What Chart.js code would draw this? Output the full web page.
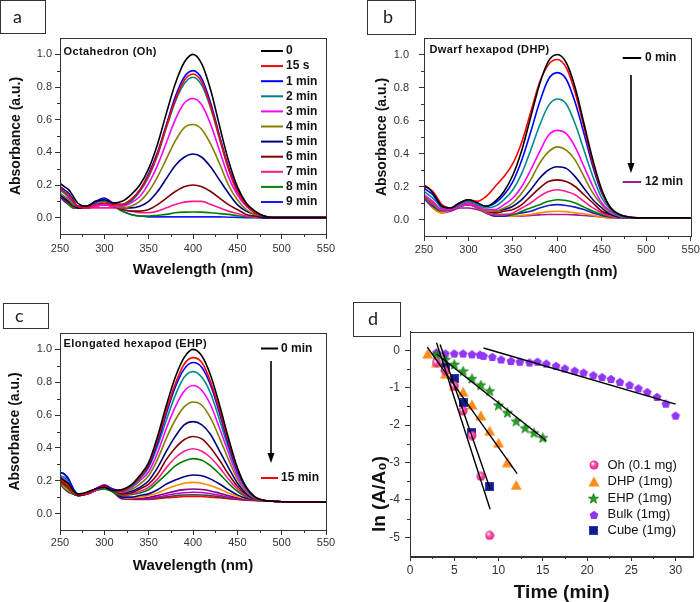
<!DOCTYPE html>
<html>
<head>
<meta charset="utf-8">
<script src="https://cdn.jsdelivr.net/npm/chart.js@4.4.1/dist/chart.umd.min.js"></script>
<style>
  html, body { margin: 0; padding: 0; overflow: hidden; background: #fff; }
  body { position: relative; width: 700px; height: 602px; }
  canvas { position: absolute; }
  .tag { position: absolute; box-sizing: border-box; border: 1px solid #333; font: 18px Lato, "Open Sans", sans-serif; color: #222; }
</style>
</head>
<body>
<canvas id="chartA" width="350" height="300" style="left:0;top:0"></canvas>
<canvas id="chartB" width="370" height="300" style="left:350px;top:0"></canvas>
<canvas id="chartC" width="350" height="302" style="left:0;top:300px"></canvas>
<canvas id="chartD" width="360" height="302" style="left:350px;top:300px"></canvas>
<div class="tag" style="left:0;top:0;width:46px;height:34px;line-height:30px;padding-left:12px">a</div>
<div class="tag" style="left:367px;top:0;width:49px;height:35px;line-height:31px;padding-left:15px">b</div>
<div class="tag" style="left:3px;top:303px;width:46px;height:26px;line-height:22px;padding-left:11px">c</div>
<div class="tag" style="left:353px;top:302px;width:48px;height:35px;line-height:31px;padding-left:14px">d</div>
<script>
// wavelength grid shared by the three spectra panels
const wavelength = [250,255,260,265,270,280,290,300,310,320,330,340,350,360,370,380,390,400,410,420,430,440,450,460,470,480,490,500,550];
const wlTicks = [250,300,350,400,450,500,550];
const wlMinor = [275,325,375,425,475,525];
const absTicks = [0,0.2,0.4,0.6,0.8,1.0];
const absMinor = [0.1,0.3,0.5,0.7,0.9];

// (a) octahedron
const octaLabels = ['0','15 s','1 min','2 min','3 min','4 min','5 min','6 min','7 min','8 min','9 min'];
const octaColors = ['#000000','#ff0000','#0000ff','#008080','#ff00ff','#808000','#000080','#800000','#ff1a8c','#008000','#1a1aff'];
const octa0   = [0.21,0.19,0.17,0.13,0.09,0.07,0.10,0.11,0.09, 0.10,0.14,0.20,0.30,0.45,0.64,0.82,0.95,1.00,0.94,0.78,0.56,0.35,0.19,0.09,0.04,0.01, 0,0,0];
const octa15s = [0.18,0.16,0.14,0.10,0.07,0.06,0.08,0.09,0.08, 0.08,0.11,0.17,0.26,0.39,0.56,0.72,0.84,0.88,0.83,0.68,0.49,0.30,0.16,0.08,0.03,0.01, 0,0,0];
const octa1   = [0.19,0.17,0.15,0.11,0.07,0.07,0.10,0.12,0.09, 0.08,0.11,0.17,0.27,0.40,0.57,0.74,0.86,0.90,0.85,0.70,0.50,0.31,0.17,0.08,0.03,0.01, 0,0,0];
const octa2   = [0.17,0.15,0.13,0.09,0.07,0.07,0.08,0.10,0.08, 0.08,0.10,0.16,0.25,0.38,0.55,0.71,0.82,0.86,0.81,0.67,0.48,0.30,0.16,0.08,0.03,0.01, 0,0,0];
const octa3   = [0.17,0.15,0.12,0.09,0.07,0.06,0.07,0.08,0.07, 0.07,0.09,0.13,0.21,0.32,0.46,0.60,0.70,0.73,0.69,0.57,0.41,0.25,0.14,0.07,0.03,0.01, 0,0,0];
const octa4   = [0.15,0.13,0.11,0.08,0.07,0.06,0.07,0.08,0.07, 0.06,0.07,0.10,0.16,0.25,0.36,0.47,0.55,0.57,0.54,0.45,0.33,0.20,0.11,0.05,0.02,0.01, 0,0,0];
const octa5   = [0.14,0.12,0.10,0.08,0.06,0.06,0.07,0.08,0.07, 0.06,0.06,0.07,0.10,0.16,0.24,0.32,0.37,0.39,0.37,0.31,0.23,0.15,0.08,0.04,0.02,0, 0,0,0];
const octa6   = [0.14,0.11,0.09,0.07,0.06,0.06,0.07,0.08,0.07, 0.05,0.04,0.04,0.05,0.08,0.12,0.16,0.19,0.20,0.19,0.16,0.12,0.08,0.05,0.02,0.01,0, 0,0,0];
const octa7   = [0.14,0.11,0.09,0.07,0.06,0.06,0.06,0.06,0.06, 0.05,0.04,0.03,0.03,0.04,0.06,0.08,0.095,0.10,0.10,0.08,0.06,0.04,0.025,0.01,0.005,0, 0,0,0];
const octa8   = [0.14,0.11,0.08,0.06,0.06,0.06,0.07,0.08,0.07, 0.04,0.02,0.01,0.01,0.015,0.02,0.03,0.034,0.035,0.034,0.03,0.025,0.02,0.012,0.006,0.002,0, 0,0,0];
const octa9   = [0.13,0.10,0.08,0.06,0.06,0.07,0.09,0.11,0.08, 0.04,0.02,0.01,0.005,0.005,0.005,0.005,0.005,0.005,0.005,0.005,0.005,0.003,0.002,0,0,0, 0,0,0];

// (b) dwarf hexapod
const dhpLabels = ['0 min','1 min','2 min','3 min','4 min','5 min','6 min','7 min','8 min','9 min','10 min','11 min','12 min'];
const dhpColors = ['#000000','#ff0000','#0000ff','#008b8b','#ff00ff','#808000','#000080','#800000','#ff1a8c','#008000','#1a1acc','#ff8c00','#9b1d9b'];
const dhp0  = [0.20,0.19,0.16,0.12,0.08,0.07,0.10,0.12,0.10, 0.08,0.11,0.17,0.27,0.42,0.62,0.82,0.96,1.00,0.95,0.80,0.58,0.36,0.18,0.07,0.03,0.015, 0.01,0.01,0.01];
const dhp1  = [0.21,0.19,0.17,0.13,0.09,0.07,0.10,0.12,0.11, 0.14,0.20,0.26,0.34,0.47,0.65,0.83,0.94,0.97,0.92,0.77,0.56,0.34,0.17,0.07,0.03,0.015, 0.01,0.01,0.01];
const dhp2  = [0.19,0.17,0.15,0.11,0.08,0.07,0.10,0.12,0.10, 0.08,0.10,0.15,0.23,0.36,0.53,0.71,0.85,0.89,0.85,0.71,0.52,0.32,0.16,0.07,0.03,0.015, 0.01,0.01,0.01];
const dhp3  = [0.17,0.15,0.13,0.10,0.07,0.07,0.09,0.11,0.09, 0.07,0.08,0.12,0.18,0.28,0.42,0.57,0.69,0.73,0.70,0.58,0.42,0.26,0.13,0.06,0.02,0.01, 0.01,0.01,0.01];
const dhp4  = [0.15,0.13,0.11,0.08,0.06,0.06,0.08,0.10,0.08, 0.06,0.06,0.09,0.13,0.20,0.30,0.41,0.51,0.54,0.52,0.44,0.32,0.20,0.10,0.05,0.02,0.01, 0.01,0.01,0.01];
const dhp5  = [0.14,0.12,0.10,0.07,0.06,0.06,0.08,0.10,0.08, 0.05,0.05,0.07,0.10,0.16,0.24,0.34,0.41,0.44,0.42,0.36,0.26,0.16,0.09,0.04,0.02,0.01, 0.01,0.01,0.01];
const dhp6  = [0.14,0.12,0.10,0.07,0.06,0.06,0.08,0.10,0.08, 0.05,0.05,0.06,0.08,0.12,0.18,0.25,0.30,0.32,0.31,0.26,0.19,0.12,0.07,0.03,0.015,0.01, 0.01,0.01,0.01];
const dhp7  = [0.14,0.12,0.10,0.07,0.06,0.06,0.08,0.10,0.08, 0.05,0.04,0.05,0.06,0.09,0.14,0.19,0.23,0.24,0.23,0.20,0.15,0.10,0.05,0.03,0.015,0.01, 0.01,0.01,0.01];
const dhp8  = [0.14,0.11,0.09,0.07,0.05,0.06,0.08,0.09,0.07, 0.04,0.03,0.03,0.04,0.07,0.10,0.14,0.17,0.18,0.17,0.15,0.11,0.07,0.04,0.02,0.01,0.01, 0.01,0.01,0.01];
const dhp9  = [0.14,0.11,0.09,0.06,0.05,0.06,0.08,0.09,0.07, 0.04,0.03,0.03,0.03,0.05,0.07,0.09,0.11,0.12,0.115,0.10,0.075,0.05,0.03,0.015,0.01,0.01, 0.01,0.01,0.01];
const dhp10 = [0.13,0.10,0.08,0.06,0.05,0.06,0.08,0.09,0.07, 0.04,0.02,0.02,0.03,0.04,0.05,0.07,0.085,0.09,0.085,0.075,0.06,0.04,0.025,0.015,0.01,0.01, 0.01,0.01,0.01];
const dhp11 = [0.13,0.10,0.07,0.05,0.04,0.06,0.09,0.10,0.07, 0.04,0.02,0.02,0.02,0.025,0.03,0.04,0.048,0.05,0.048,0.04,0.035,0.025,0.015,0.01,0.01,0.01, 0.01,0.01,0.01];
const dhp12 = [0.13,0.10,0.07,0.05,0.04,0.05,0.07,0.07,0.06, 0.04,0.02,0.02,0.02,0.02,0.025,0.028,0.03,0.03,0.03,0.028,0.024,0.02,0.015,0.01,0.01,0.01, 0.01,0.01,0.01];

// (c) elongated hexapod
const ehpLabels = ['0 min','1 min','2 min','3 min','4 min','5 min','6 min','7 min','8 min','9 min','10 min','11 min','12 min','13 min','14 min','15 min'];
const ehpColors = ['#000000','#ff0000','#0000ff','#008b8b','#ff00ff','#808000','#000080','#800000','#ff1a8c','#008000','#00008b','#ff8c00','#800080','#c000c0','#404040','#ff0000'];
const ehp0  = [0.22,0.20,0.18,0.14,0.12,0.13,0.15,0.16,0.14, 0.146,0.173,0.232,0.31,0.47,0.66,0.83,0.95,1.00,0.96,0.84,0.66,0.46,0.28,0.16,0.10,0.08, 0.075,0.072,0.07];
const ehp1  = [0.21,0.19,0.17,0.13,0.12,0.12,0.15,0.165,0.14, 0.14,0.17,0.22,0.30,0.45,0.63,0.79,0.91,0.95,0.92,0.80,0.63,0.44,0.27,0.16,0.10,0.08, 0.075,0.072,0.07];
const ehp2  = [0.25,0.24,0.21,0.15,0.12,0.12,0.15,0.17,0.15, 0.14,0.17,0.22,0.29,0.43,0.61,0.77,0.88,0.92,0.89,0.78,0.61,0.42,0.26,0.16,0.10,0.08, 0.075,0.072,0.07];
const ehp3  = [0.23,0.22,0.19,0.14,0.12,0.12,0.15,0.16,0.14, 0.14,0.16,0.21,0.28,0.41,0.57,0.72,0.83,0.865,0.83,0.73,0.57,0.40,0.25,0.15,0.096,0.08, 0.075,0.072,0.07];
const ehp4  = [0.22,0.21,0.18,0.14,0.12,0.12,0.14,0.16,0.14, 0.135,0.155,0.20,0.255,0.37,0.52,0.65,0.745,0.78,0.75,0.66,0.52,0.37,0.23,0.14,0.094,0.08, 0.075,0.072,0.07];
const ehp5  = [0.21,0.19,0.17,0.13,0.12,0.12,0.14,0.16,0.14, 0.13,0.145,0.18,0.23,0.33,0.46,0.57,0.65,0.68,0.66,0.58,0.46,0.33,0.21,0.134,0.092,0.08, 0.075,0.072,0.07];
const ehp6  = [0.25,0.24,0.20,0.15,0.12,0.12,0.14,0.16,0.14, 0.13,0.135,0.16,0.20,0.28,0.38,0.47,0.54,0.56,0.54,0.48,0.38,0.28,0.186,0.123,0.09,0.08, 0.075,0.072,0.07];
const ehp7  = [0.20,0.18,0.16,0.13,0.11,0.12,0.14,0.16,0.14, 0.12,0.125,0.15,0.18,0.24,0.33,0.40,0.45,0.47,0.455,0.40,0.325,0.24,0.166,0.115,0.088,0.08, 0.075,0.072,0.07];
const ehp8  = [0.21,0.18,0.16,0.13,0.11,0.12,0.14,0.16,0.14, 0.115,0.12,0.135,0.16,0.21,0.28,0.34,0.38,0.395,0.38,0.34,0.28,0.21,0.15,0.108,0.086,0.08, 0.075,0.072,0.07];
const ehp9  = [0.19,0.17,0.15,0.12,0.11,0.12,0.14,0.15,0.13, 0.11,0.115,0.125,0.145,0.19,0.24,0.29,0.32,0.335,0.325,0.29,0.24,0.185,0.136,0.103,0.085,0.08, 0.075,0.072,0.07];
const ehp10 = [0.20,0.18,0.15,0.12,0.11,0.12,0.14,0.16,0.14, 0.10,0.10,0.11,0.12,0.145,0.18,0.205,0.225,0.235,0.23,0.21,0.18,0.145,0.114,0.094,0.083,0.08, 0.075,0.072,0.07];
const ehp11 = [0.19,0.16,0.14,0.12,0.11,0.12,0.14,0.16,0.14, 0.10,0.095,0.10,0.11,0.125,0.15,0.17,0.185,0.19,0.185,0.17,0.15,0.125,0.104,0.09,0.082,0.08, 0.075,0.072,0.07];
const ehp12 = [0.19,0.16,0.14,0.12,0.11,0.12,0.15,0.16,0.14, 0.095,0.09,0.092,0.098,0.11,0.124,0.137,0.146,0.15,0.147,0.138,0.124,0.109,0.095,0.086,0.081,0.08, 0.075,0.072,0.07];
const ehp13 = [0.20,0.17,0.14,0.12,0.11,0.12,0.15,0.17,0.14, 0.095,0.09,0.09,0.092,0.101,0.111,0.121,0.127,0.13,0.128,0.121,0.111,0.10,0.091,0.085,0.081,0.08, 0.075,0.072,0.07];
const ehp14 = [0.18,0.15,0.13,0.12,0.11,0.12,0.14,0.16,0.13, 0.09,0.088,0.088,0.089,0.095,0.102,0.109,0.113,0.115,0.113,0.109,0.102,0.094,0.088,0.083,0.08,0.078, 0.075,0.072,0.07];
const ehp15 = [0.19,0.16,0.13,0.12,0.11,0.12,0.15,0.175,0.14, 0.09,0.087,0.086,0.086,0.09,0.096,0.10,0.104,0.105,0.104,0.10,0.096,0.09,0.086,0.082,0.08,0.078, 0.075,0.072,0.07];

// (d) kinetics, ln(A/A0) vs time
const ohTime   = [3,4,5,6,7,8,9];
const ohLn     = [-0.33,-0.55,-0.95,-1.62,-2.28,-3.37,-4.95];
const dhpTime  = [2,3,4,5,6,7,8,9,10,11,12];
const dhpLn    = [-0.09,-0.32,-0.63,-0.95,-1.11,-1.45,-1.74,-2.15,-2.47,-2.99,-3.6];
const ehpTime  = [3,4,5,6,7,8,9,10,11,12,13,14,15];
const ehpLn    = [-0.12,-0.25,-0.38,-0.56,-0.76,-0.93,-1.09,-1.47,-1.67,-1.90,-2.08,-2.21,-2.34];
const bulkTime = [3,4,5,6,7,7.9,8.3,9.3,10.3,11.4,12.4,13.5,14.4,15.4,16.5,17.5,18.6,19.6,20.7,21.7,22.7,23.7,24.8,25.8,26.8,27.9,28.9,30];
const bulkLn   = [-0.06,-0.09,-0.09,-0.09,-0.11,-0.12,-0.15,-0.18,-0.25,-0.29,-0.31,-0.33,-0.31,-0.36,-0.42,-0.49,-0.55,-0.60,-0.67,-0.72,-0.77,-0.85,-0.93,-1.02,-1.12,-1.25,-1.43,-1.75];
const cubeTime = [4,5,6,7,9];
const cubeLn   = [-0.45,-0.76,-1.41,-2.21,-3.65];
// fitted lines, two end points each
const ohFitT = [3.0,9.05],  ohFitLn = [0.2,-4.25];
const cubeFitT = [3.4,9.05], cubeFitLn = [0.15,-3.7];
const dhpFitT = [1.95,12.1], dhpFitLn = [0.08,-3.3];
const ehpFitT = [3.0,15.4],  ehpFitLn = [-0.1,-2.42];
const bulkFitT = [8.3,30],   bulkFitLn = [0.06,-1.44];
const timeTicks = [0,5,10,15,20,25,30];
const timeMinor = [2.5,7.5,12.5,17.5,22.5,27.5];
const lnTicks = [-5,-4,-3,-2,-1,0];
const lnMinor = [-4.5,-3.5,-2.5,-1.5,-0.5];

const FONT = '"Liberation Sans", Arial, sans-serif';
Chart.defaults.font.family = FONT;

// box round the plot area
const frame = {
  id: 'frame',
  afterDraw(chart) {
    const { ctx, chartArea: a } = chart;
    ctx.save();
    ctx.strokeStyle = '#333';
    ctx.lineWidth = 1;
    ctx.strokeRect(Math.round(a.left) + 0.5, Math.round(a.top) + 0.5, Math.round(a.right - a.left), Math.round(a.bottom - a.top));
    ctx.restore();
  }
};

const minorTicks = {
  id: 'minorTicks',
  afterDraw(chart, args, o) {
    const { ctx, chartArea: a, scales } = chart;
    ctx.save();
    ctx.strokeStyle = '#333';
    ctx.lineWidth = 1;
    ctx.beginPath();
    (o.x || []).forEach(v => {
      const px = Math.round(scales.x.getPixelForValue(v)) + 0.5;
      ctx.moveTo(px, a.bottom); ctx.lineTo(px, a.bottom + 3);
    });
    (o.y || []).forEach(v => {
      const py = Math.round(scales.y.getPixelForValue(v)) + 0.5;
      ctx.moveTo(a.left, py); ctx.lineTo(a.left - 3, py);
    });
    ctx.stroke();
    ctx.restore();
  }
};

// free text drawn on the canvas
const notes = {
  id: 'notes',
  afterDraw(chart, args, o) {
    const ctx = chart.ctx;
    (o.items || []).forEach(t => {
      ctx.save();
      ctx.font = t.font;
      if (t.spacing) ctx.letterSpacing = t.spacing;
      ctx.fillStyle = t.color || '#111';
      ctx.textAlign = t.align || 'left';
      ctx.textBaseline = 'middle';
      ctx.translate(t.x, t.y);
      if (t.rotate) ctx.rotate(t.rotate);
      ctx.fillText(t.text, 0, 0);
      ctx.restore();
    });
  }
};

// legend drawn inside the plot
const keys = {
  id: 'keys',
  afterDraw(chart, args, o) {
    if (!o.rows) return;
    const ctx = chart.ctx;
    ctx.save();
    ctx.font = o.font;
    ctx.textBaseline = 'middle';
    o.rows.forEach(r => {
      const ds = chart.data.datasets[r.i];
      if (o.marker) {
        const img = ds.pointStyle;
        ctx.drawImage(img, Math.round(o.x - img.width / 2), Math.round(r.y - img.height / 2));
      } else {
        ctx.strokeStyle = ds.borderColor;
        ctx.lineWidth = 2;
        ctx.beginPath();
        ctx.moveTo(o.x, r.y); ctx.lineTo(o.x + o.len, r.y);
        ctx.stroke();
      }
      ctx.fillStyle = '#111';
      ctx.fillText(ds.label, o.tx, r.y);
    });
    if (o.arrow) {
      const ar = o.arrow;
      ctx.strokeStyle = '#000';
      ctx.fillStyle = '#000';
      ctx.lineWidth = 1.6;
      ctx.beginPath();
      ctx.moveTo(ar.x, ar.y1); ctx.lineTo(ar.x, ar.y2 - 8);
      ctx.stroke();
      ctx.beginPath();
      ctx.moveTo(ar.x - 3.5, ar.y2 - 10); ctx.lineTo(ar.x + 3.5, ar.y2 - 10); ctx.lineTo(ar.x, ar.y2);
      ctx.closePath();
      ctx.fill();
    }
    ctx.restore();
  }
};

function spectraChart(id, series, labels, colors, g, extra) {
  const datasets = series.map((vals, k) => ({
    label: labels[k],
    data: wavelength.map((w, j) => ({ x: w, y: vals[j] })),
    borderColor: colors[k],
    borderWidth: 1.6,
    pointRadius: 0,
    cubicInterpolationMode: 'monotone',
    fill: false
  }));
  return new Chart(document.getElementById(id), {
    type: 'line',
    data: { datasets },
    options: {
      responsive: false,
      animation: false,
      events: [],
      layout: { padding: { top: g.top, right: g.right, left: 0, bottom: 0 } },
      scales: {
        x: {
          type: 'linear', min: 250, max: 550,
          afterBuildTicks: s => { s.ticks = wlTicks.map(v => ({ value: v })); },
          afterFit: s => { s.height = g.xh; },
          grid: { drawOnChartArea: false, tickLength: 5, color: '#333' },
          border: { color: '#333' },
          ticks: { padding: g.xtp, color: '#333', font: { size: 11 }, maxRotation: 0, autoSkip: false },
          title: { display: true, text: 'Wavelength (nm)', color: '#111', font: { size: 15, weight: 'bold' }, padding: { top: 0, bottom: g.xtitle } }
        },
        y: {
          type: 'linear', min: -0.1, max: 1.1,
          afterBuildTicks: s => { s.ticks = absTicks.map(v => ({ value: v })); },
          afterFit: s => { s.width = g.yw; },
          grid: { drawOnChartArea: false, tickLength: 5, color: '#333' },
          border: { color: '#333' },
          ticks: { padding: g.ytp, color: '#333', font: { size: 11 }, callback: v => v.toFixed(1) },
          title: { display: true, text: 'Absorbance (a.u.)', color: '#111', font: { size: 14, weight: 'bold' }, padding: { top: g.ytitle, bottom: 0 } }
        }
      },
      plugins: {
        legend: { display: false },
        tooltip: { enabled: false },
        minorTicks: { x: wlMinor, y: absMinor },
        notes: { items: [{ text: g.name, x: g.nx, y: g.ny, font: 'bold 11px ' + FONT, spacing: '0.4px' }] },
        keys: extra
      }
    },
    plugins: [frame, minorTicks, notes, keys]
  });
}

spectraChart('chartA',
  [octa0, octa15s, octa1, octa2, octa3, octa4, octa5, octa6, octa7, octa8, octa9],
  octaLabels, octaColors,
  { top: 38, right: 24, xh: 66, yw: 60, xtp: 3, ytp: 3, xtitle: 21, ytitle: 7.6, name: 'Octahedron (Oh)', nx: 63.5, ny: 51.5 },
  { font: 'bold 12px ' + FONT, x: 261, len: 22, tx: 286,
    rows: octaLabels.map((l, k) => ({ i: k, y: 51 + k * 15.1 })) });

spectraChart('chartB',
  [dhp0, dhp1, dhp2, dhp3, dhp4, dhp5, dhp6, dhp7, dhp8, dhp9, dhp10, dhp11, dhp12],
  dhpLabels, dhpColors,
  { top: 38, right: 29.3, xh: 64, yw: 74, xtp: 2.5, ytp: 10, xtitle: 19.3, ytitle: 23.3, name: 'Dwarf hexapod (DHP)', nx: 79.5, ny: 49.5 },
  { font: 'bold 12px ' + FONT, x: 272.7, len: 18.5, tx: 295,
    rows: [{ i: 0, y: 58 }, { i: 12, y: 182 }],
    arrow: { x: 281, y1: 75, y2: 173 } });

spectraChart('chartC',
  [ehp0, ehp1, ehp2, ehp3, ehp4, ehp5, ehp6, ehp7, ehp8, ehp9, ehp10, ehp11, ehp12, ehp13, ehp14, ehp15],
  ehpLabels, ehpColors,
  { top: 33, right: 24, xh: 72, yw: 60, xtp: 1, ytp: 3, xtitle: 27.3, ytitle: 6.6, name: 'Elongated hexapod (EHP)', nx: 63.5, ny: 43.5 },
  { font: 'bold 12px ' + FONT, x: 261, len: 17, tx: 281,
    rows: [{ i: 0, y: 48.5 }, { i: 15, y: 178 }],
    arrow: { x: 271, y1: 61, y2: 163 } });

// marker images for panel d
function marker(w, h, draw) {
  const c = document.createElement('canvas');
  c.width = w; c.height = h;
  draw(c.getContext('2d'), w, h);
  return c;
}
const ohMark = marker(10, 10, (g, w) => {
  const grad = g.createRadialGradient(3.6, 3.4, 0.4, 5, 5, 5);
  grad.addColorStop(0, '#ffffff');
  grad.addColorStop(0.35, '#ff5cb0');
  grad.addColorStop(1, '#e0107a');
  g.beginPath(); g.arc(5, 5, 4.5, 0, Math.PI * 2);
  g.fillStyle = grad; g.fill();
});
const dhpMark = marker(12, 11, (g, w, h) => {
  g.beginPath(); g.moveTo(6, 0.5); g.lineTo(11.5, 10.5); g.lineTo(0.5, 10.5); g.closePath();
  g.fillStyle = '#ff8c1a'; g.fill();
});
const ehpMark = marker(11, 11, g => {
  g.beginPath();
  for (let k = 0; k < 10; k++) {
    const r = k % 2 ? 2.2 : 5.3;
    const a = -Math.PI / 2 + k * Math.PI / 5;
    g.lineTo(5.5 + r * Math.cos(a), 5.9 + r * Math.sin(a));
  }
  g.closePath();
  g.fillStyle = '#23a023'; g.fill();
  g.strokeStyle = '#137013'; g.lineWidth = 0.7; g.stroke();
});
const bulkMark = marker(10, 10, g => {
  g.beginPath();
  for (let k = 0; k < 5; k++) {
    const a = -Math.PI / 2 + k * 2 * Math.PI / 5;
    g.lineTo(5 + 4.6 * Math.cos(a), 5.4 + 4.6 * Math.sin(a));
  }
  g.closePath();
  g.fillStyle = '#9236f5'; g.fill();
});
const cubeMark = marker(9, 9, g => {
  g.fillStyle = '#101c8c'; g.fillRect(0, 0, 9, 9);
  g.strokeStyle = '#2a3ab8'; g.lineWidth = 1; g.strokeRect(0.5, 0.5, 8, 8);
});

function pts(t, v) { return t.map((x, k) => ({ x, y: v[k] })); }
function fitLine(t, v) {
  return { label: 'fit', data: pts(t, v), showLine: true, borderColor: '#000', borderWidth: 1.4, pointRadius: 0, order: 0 };
}
function scatterSet(label, t, v, img) {
  return { label, data: pts(t, v), pointStyle: img, pointRadius: 5, showLine: false, order: 1 };
}

new Chart(document.getElementById('chartD'), {
  type: 'scatter',
  data: {
    datasets: [
      scatterSet('Oh (0.1 mg)', ohTime, ohLn, ohMark),
      scatterSet('DHP (1mg)', dhpTime, dhpLn, dhpMark),
      scatterSet('EHP (1mg)', ehpTime, ehpLn, ehpMark),
      scatterSet('Bulk (1mg)', bulkTime, bulkLn, bulkMark),
      scatterSet('Cube (1mg)', cubeTime, cubeLn, cubeMark),
      fitLine(ohFitT, ohFitLn),
      fitLine(cubeFitT, cubeFitLn),
      fitLine(dhpFitT, dhpFitLn),
      fitLine(ehpFitT, ehpFitLn),
      fitLine(bulkFitT, bulkFitLn)
    ]
  },
  options: {
    responsive: false,
    animation: false,
    events: [],
    layout: { padding: { top: 31.5, right: 16.7, left: 0, bottom: 0 } },
    scales: {
      x: {
        type: 'linear', min: 0, max: 32,
        afterBuildTicks: s => { s.ticks = timeTicks.map(v => ({ value: v })); },
        afterFit: s => { s.height = 46; },
        grid: { drawOnChartArea: false, tickLength: 5, color: '#333' },
        border: { color: '#333' },
        ticks: { padding: 2, color: '#333', font: { size: 12 }, maxRotation: 0, autoSkip: false }
      },
      y: {
        type: 'linear', min: -5.5, max: 0.5,
        afterBuildTicks: s => { s.ticks = lnTicks.map(v => ({ value: v })); },
        afterFit: s => { s.width = 60; },
        grid: { drawOnChartArea: false, tickLength: 5, color: '#333' },
        border: { color: '#333' },
        ticks: { padding: 5, color: '#333', font: { size: 12 }, callback: v => String(v) }
      }
    },
    plugins: {
      legend: { display: false },
      tooltip: { enabled: false },
      minorTicks: { x: timeMinor, y: lnMinor },
      notes: { items: [
        { text: 'Time (min)', x: 211.7, y: 293, align: 'center', font: 'bold 19px ' + FONT },
        { text: 'ln (A/A\u2080)', x: 30, y: 194, align: 'center', rotate: -Math.PI / 2, font: 'bold 19px ' + FONT }
      ] },
      keys: { marker: true, font: '13px ' + FONT, x: 243.5, tx: 257.5,
        rows: [{ i: 0, y: 165 }, { i: 1, y: 181.5 }, { i: 2, y: 198.5 }, { i: 3, y: 214.5 }, { i: 4, y: 230.5 }] }
    }
  },
  plugins: [frame, minorTicks, notes, keys]
});
</script>
</body>
</html>
